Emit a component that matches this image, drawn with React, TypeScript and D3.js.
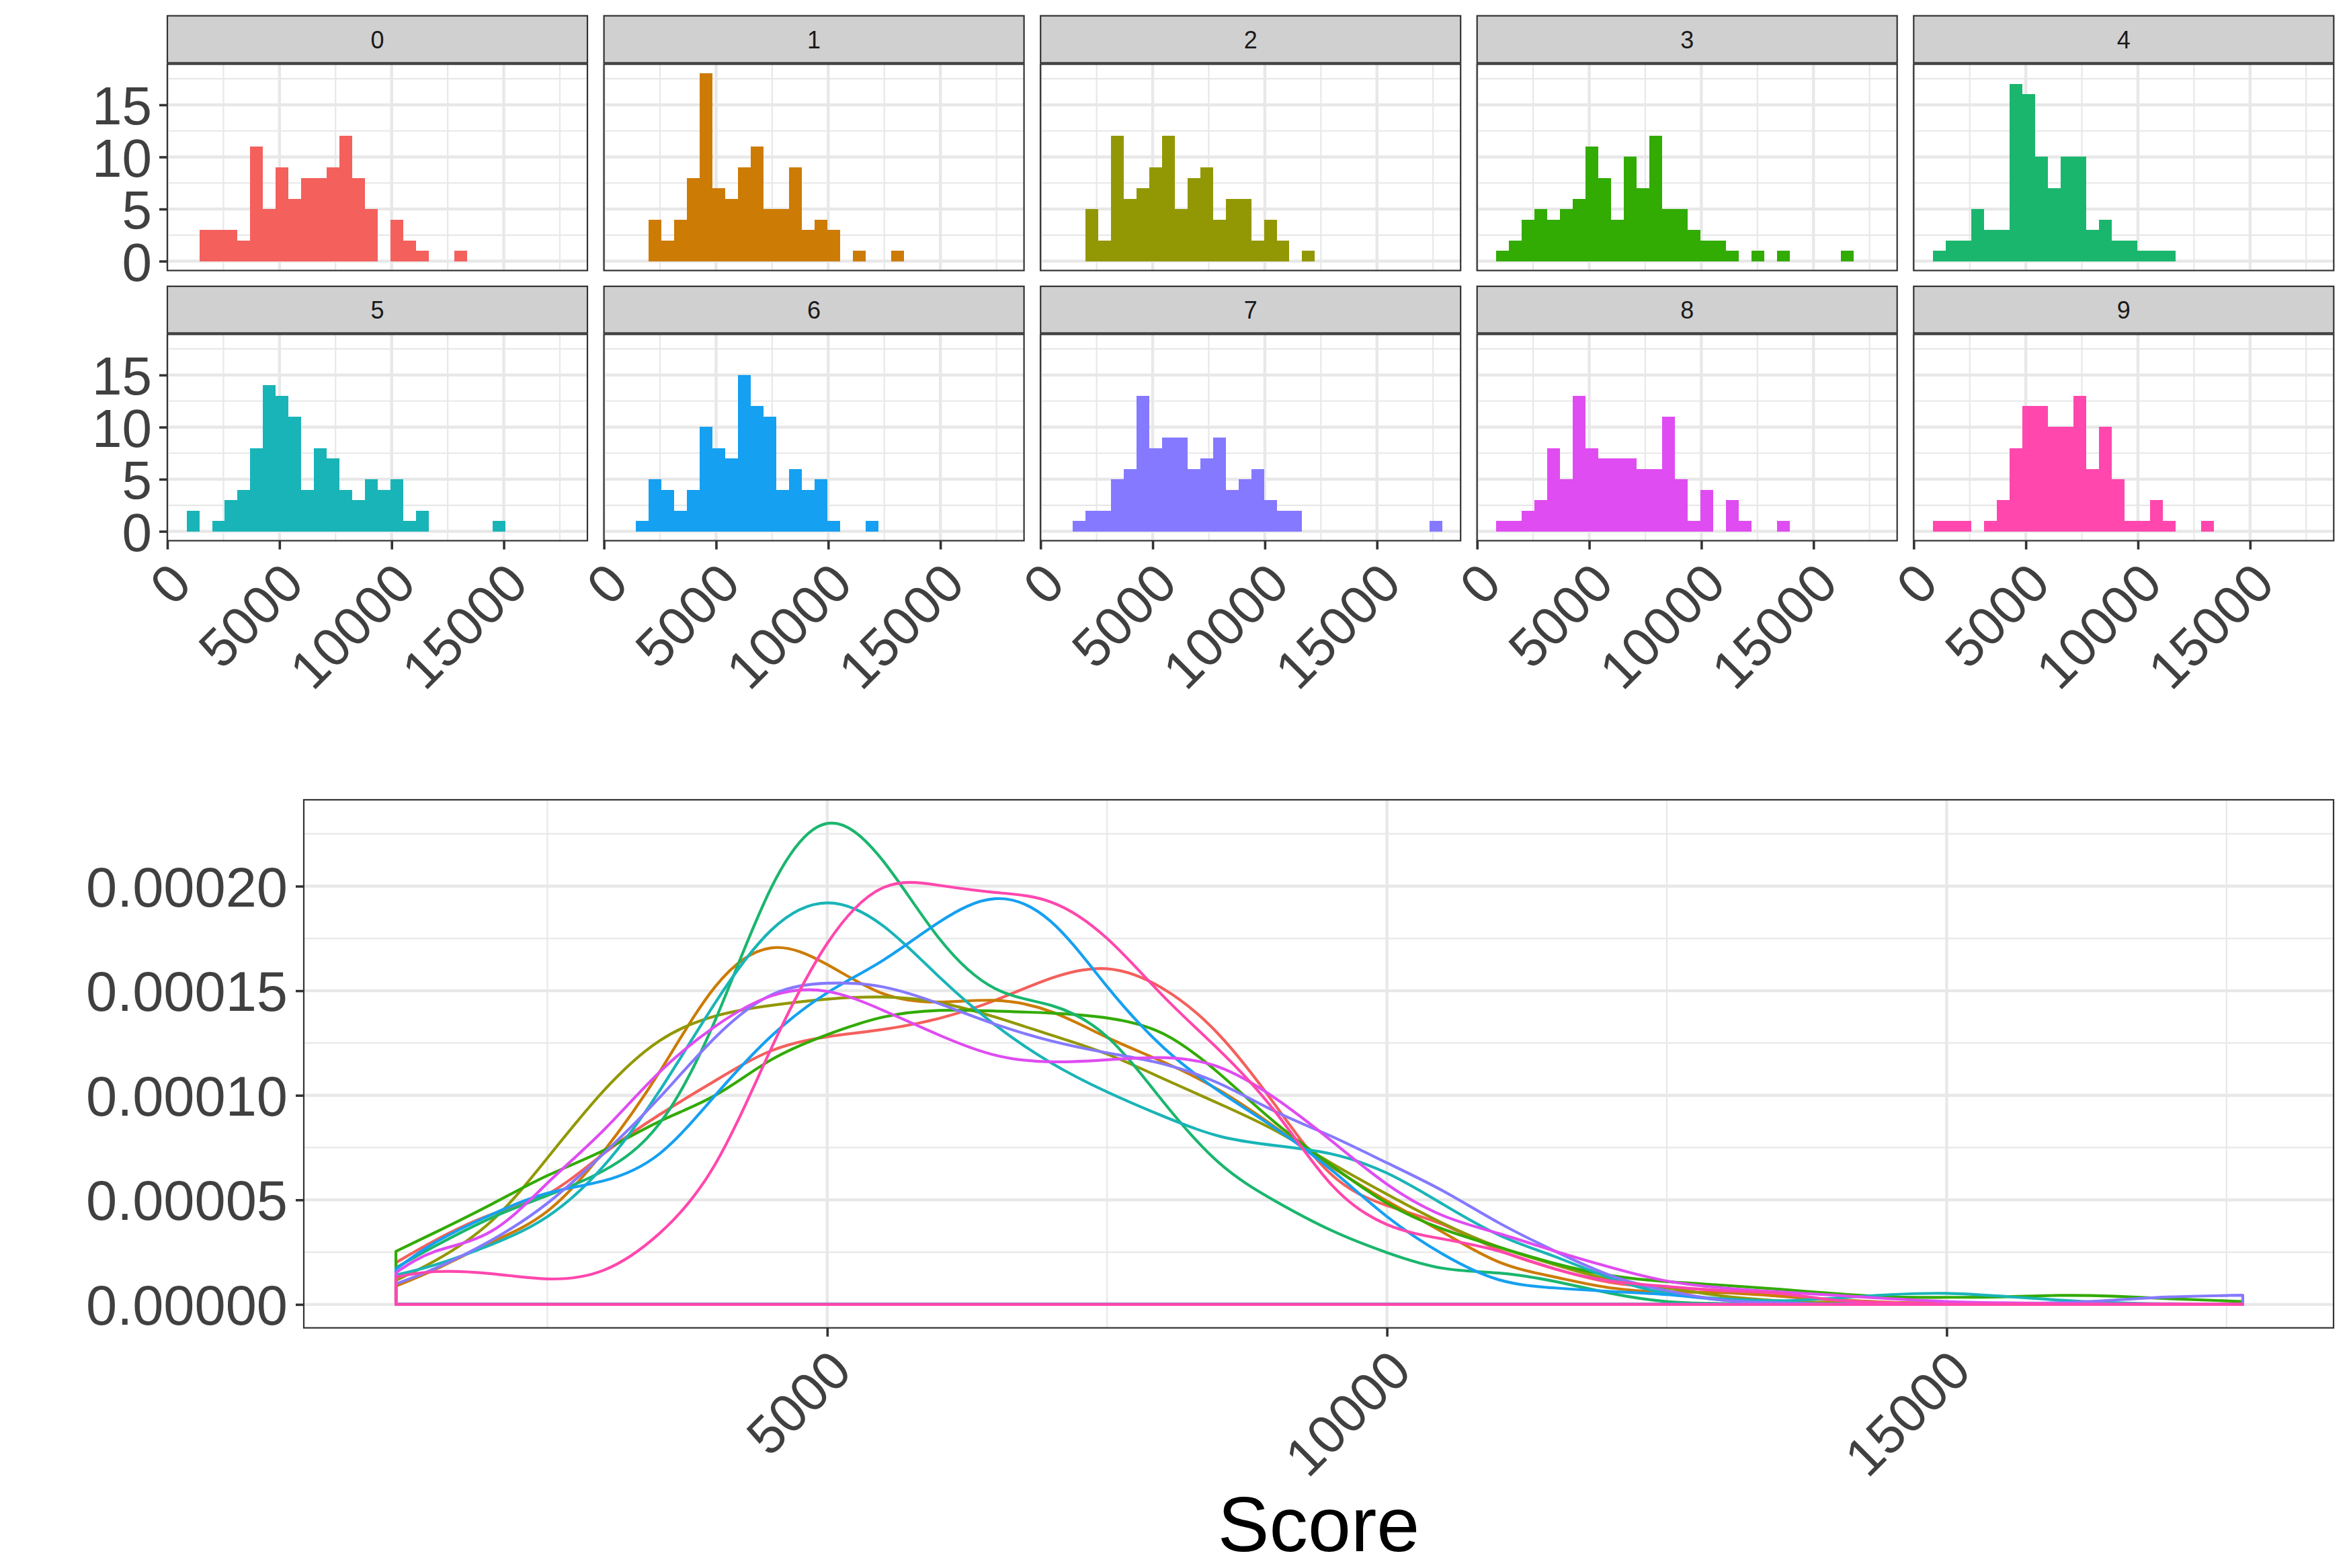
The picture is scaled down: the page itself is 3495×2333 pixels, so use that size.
import { useEffect, useRef } from "react";
import * as d3 from "d3";

const WIDTH = 3495;
const HEIGHT = 2333;

const groups = ["0", "1", "2", "3", "4", "5", "6", "7", "8", "9"];
const colors = ["#F4605C", "#CC7B05", "#929804", "#32AB03", "#1AB66E", "#19B4B7", "#15A0F1", "#8579FF", "#DF4CF1", "#FF47AE"];

// histogram counts per bin, 30 bins for every group
const binStart = 855;
const binWidth = 569;
const counts0 = [0, 3, 3, 3, 2, 11, 5, 9, 6, 8, 8, 9, 12, 8, 5, 0, 4, 2, 1, 0, 0, 1, 0, 0, 0, 0, 0, 0, 0, 0];
const counts1 = [0, 0, 4, 2, 4, 8, 18, 7, 6, 9, 11, 5, 5, 9, 3, 4, 3, 0, 1, 0, 0, 1, 0, 0, 0, 0, 0, 0, 0, 0];
const counts2 = [0, 0, 5, 2, 12, 6, 7, 9, 12, 5, 8, 9, 4, 6, 6, 2, 4, 2, 0, 1, 0, 0, 0, 0, 0, 0, 0, 0, 0, 0];
const counts3 = [1, 2, 4, 5, 4, 5, 6, 11, 8, 4, 10, 7, 12, 5, 5, 3, 2, 2, 1, 0, 1, 0, 1, 0, 0, 0, 0, 1, 0, 0];
const counts4 = [1, 2, 2, 5, 3, 3, 17, 16, 10, 7, 10, 10, 3, 4, 2, 2, 1, 1, 1, 0, 0, 0, 0, 0, 0, 0, 0, 0, 0, 0];
const counts5 = [2, 0, 1, 3, 4, 8, 14, 13, 11, 4, 8, 7, 4, 3, 5, 4, 5, 1, 2, 0, 0, 0, 0, 0, 1, 0, 0, 0, 0, 0];
const counts6 = [0, 1, 5, 4, 2, 4, 10, 8, 7, 15, 12, 11, 4, 6, 4, 5, 1, 0, 0, 1, 0, 0, 0, 0, 0, 0, 0, 0, 0, 0];
const counts7 = [0, 1, 2, 2, 5, 6, 13, 8, 9, 9, 6, 7, 9, 4, 5, 6, 3, 2, 2, 0, 0, 0, 0, 0, 0, 0, 0, 0, 0, 1];
const counts8 = [1, 1, 2, 3, 8, 5, 13, 8, 7, 7, 7, 6, 6, 11, 5, 1, 4, 0, 3, 1, 0, 0, 1, 0, 0, 0, 0, 0, 0, 0];
const counts9 = [1, 1, 1, 0, 1, 3, 8, 12, 12, 10, 10, 13, 6, 10, 5, 1, 1, 3, 1, 0, 0, 1, 0, 0, 0, 0, 0, 0, 0, 0];
const allCounts = [counts0, counts1, counts2, counts3, counts4, counts5, counts6, counts7, counts8, counts9];

const histXTicks = [0, 5000, 10000, 15000];
const histXMinor = [2500, 7500, 12500, 17500];
const histYTicks = [0, 5, 10, 15];
const histYMinor = [2.5, 7.5, 12.5, 17.5];

const scores = [1147, 1500, 2000, 2500, 3000, 3500, 4000, 4500, 5000, 5500, 6000, 6500, 7000, 7500, 8000, 8500, 9000, 9500, 10000, 10500, 11000, 11500, 12000, 12500, 13000, 13500, 14000, 14500, 15000, 15500, 16000, 16500, 17000, 17645];
const density0 = [2.0, 3.07, 4.3, 5.27, 7.2, 9.07, 10.7, 12.13, 12.8, 13.15, 13.68, 14.54, 15.6, 16.05, 15.1, 12.9, 9.55, 6.23, 4.73, 3.82, 2.6, 1.7, 1.05, 0.8, 0.66, 0.4, 0.2, 0.1, 0.05, 0.02, 0.02, 0.01, 0.01, 0.01];
const density1 = [0.88, 1.68, 2.97, 4.46, 7.3, 11.1, 15.2, 17.05, 16.25, 14.86, 14.46, 14.54, 14.0, 12.77, 11.6, 10.25, 8.48, 6.6, 4.95, 3.45, 2.03, 1.31, 0.79, 0.6, 0.56, 0.4, 0.23, 0.1, 0.05, 0.01, 0.01, 0.01, 0.01, 0.01];
const density2 = [1.15, 2.1, 3.98, 7.0, 10.2, 12.6, 13.79, 14.3, 14.6, 14.7, 14.43, 13.74, 12.88, 11.97, 10.8, 9.6, 8.32, 6.77, 5.27, 3.88, 2.74, 1.9, 1.18, 0.79, 0.4, 0.18, 0.08, 0.03, 0.01, 0.01, 0.01, 0.01, 0.01, 0.01];
const density3 = [2.54, 3.45, 4.79, 6.16, 7.36, 8.75, 10.0, 11.7, 12.9, 13.74, 14.06, 14.03, 13.93, 13.7, 12.95, 11.05, 8.7, 6.66, 4.84, 3.6, 2.74, 1.96, 1.38, 1.09, 0.92, 0.73, 0.52, 0.36, 0.34, 0.36, 0.43, 0.39, 0.27, 0.14];
const density4 = [1.75, 2.8, 4.14, 5.21, 6.39, 8.64, 13.6, 19.93, 23.0, 21.2, 17.5, 15.1, 14.3, 12.8, 9.7, 6.77, 4.95, 3.55, 2.48, 1.73, 1.5, 1.1, 0.53, 0.14, 0.04, 0.01, 0.01, 0.01, 0.01, 0.01, 0.01, 0.01, 0.01, 0.01];
const density5 = [1.41, 1.9, 2.86, 4.2, 6.6, 10.2, 14.43, 17.9, 19.2, 18.1, 15.66, 13.36, 11.55, 10.16, 9.0, 8.05, 7.6, 7.2, 6.28, 4.79, 3.32, 2.29, 1.25, 0.53, 0.27, 0.18, 0.3, 0.47, 0.53, 0.39, 0.21, 0.08, 0.03, 0.01];
const density6 = [1.68, 2.97, 4.3, 5.32, 5.91, 7.2, 10.0, 12.83, 14.9, 16.46, 18.28, 19.4, 18.3, 15.2, 12.3, 10.2, 8.43, 6.45, 4.2, 2.4, 1.18, 0.79, 0.62, 0.47, 0.21, 0.05, 0.01, 0.01, 0.01, 0.01, 0.01, 0.01, 0.01, 0.01];
const density7 = [0.98, 1.73, 3.07, 4.84, 7.2, 9.88, 12.77, 14.8, 15.36, 15.18, 14.38, 13.4, 12.6, 12.03, 11.5, 10.57, 9.23, 8.05, 6.77, 5.43, 3.9, 2.55, 1.38, 0.66, 0.21, 0.08, 0.02, 0.02, 0.02, 0.05, 0.08, 0.21, 0.36, 0.44];
const density8 = [1.52, 2.54, 3.5, 5.8, 8.32, 11.1, 13.3, 14.75, 14.97, 14.06, 12.88, 11.92, 11.6, 11.7, 11.8, 11.35, 9.87, 7.84, 5.75, 4.25, 3.39, 2.55, 1.77, 1.12, 0.79, 0.6, 0.44, 0.27, 0.14, 0.08, 0.04, 0.02, 0.02, 0.02];
const density9 = [1.31, 1.57, 1.47, 1.22, 1.63, 3.39, 6.71, 12.24, 17.26, 19.93, 20.04, 19.7, 19.24, 17.5, 14.75, 12.17, 9.23, 5.75, 3.82, 3.13, 2.55, 1.7, 1.12, 0.86, 0.66, 0.53, 0.21, 0.08, 0.02, 0.02, 0.02, 0.02, 0.02, 0.02];
const allDensity = [density0, density1, density2, density3, density4, density5, density6, density7, density8, density9];

const densityXTicks = [5000, 10000, 15000];
const densityXMinor = [2500, 7500, 12500, 17500];
const densityYTicks = [0, 5, 10, 15, 20];
const densityYLabels = ["0.00000", "0.00005", "0.00010", "0.00015", "0.00020"];
const densityYMinor = [2.5, 7.5, 12.5, 17.5, 22.5];

const panelLefts = [249, 898.6, 1548.2, 2197.7, 2847.3];
const panelW = 625;
const rowTops = [23.5, 426];
const panelTops = [95.5, 497.5];
const panelH = 307;

const GRID = "#E8E8E8";
const BORDER = "#333333";
const LABEL = "#404040";
const FONT = "'Liberation Sans', Arial, sans-serif";

function drawGrid(g, xMajor, xMinor, yMajor, yMinor, x, y, w, h) {
    xMinor.forEach(v => g.append("line").attr("x1", x(v)).attr("x2", x(v)).attr("y1", 0).attr("y2", h).attr("stroke", GRID).attr("stroke-width", 2.2));
    yMinor.forEach(v => g.append("line").attr("x1", 0).attr("x2", w).attr("y1", y(v)).attr("y2", y(v)).attr("stroke", GRID).attr("stroke-width", 2.2));
    xMajor.forEach(v => g.append("line").attr("x1", x(v)).attr("x2", x(v)).attr("y1", 0).attr("y2", h).attr("stroke", GRID).attr("stroke-width", 4.4));
    yMajor.forEach(v => g.append("line").attr("x1", 0).attr("x2", w).attr("y1", y(v)).attr("y2", y(v)).attr("stroke", GRID).attr("stroke-width", 4.4));
}

function styleAxis(axisG, size) {
    axisG.select(".domain").remove();
    axisG.selectAll(".tick line").attr("stroke", BORDER).attr("stroke-width", 3.6);
    axisG.selectAll("text").attr("font-family", FONT).attr("font-size", size).attr("fill", LABEL);
}

function rotateLabels(axisG) {
    axisG.selectAll("text")
        .attr("x", null)
        .attr("y", null)
        .attr("dy", null)
        .attr("text-anchor", "end")
        .attr("transform", "translate(39.3, 68) rotate(-45)");
}

export default function App() {
    const ref = useRef(null);

    useEffect(() => {
        const svg = d3.select(ref.current);
        svg.selectAll("*").remove();

        // top: one histogram per group
        groups.forEach((name, i) => {
            const col = i % 5;
            const row = Math.floor(i / 5);
            const left = panelLefts[col];
            const top = panelTops[row];

            const x = d3.scaleLinear().domain([0, 18730]).range([0, panelW]);
            const y = d3.scaleLinear().domain([-0.9, 18.9]).range([panelH, 0]);

            svg.append("rect")
                .attr("x", left).attr("y", rowTops[row])
                .attr("width", panelW).attr("height", top - rowTops[row] - 2)
                .attr("fill", "#D0D0D0").attr("stroke", BORDER).attr("stroke-width", 2.2);
            svg.append("text")
                .attr("x", left + panelW / 2).attr("y", rowTops[row] + 48)
                .attr("text-anchor", "middle")
                .attr("font-family", FONT).attr("font-size", 36).attr("fill", "#1A1A1A")
                .text(name);

            const g = svg.append("g").attr("transform", `translate(${left}, ${top})`);
            drawGrid(g, histXTicks, histXMinor, histYTicks, histYMinor, x, y, panelW, panelH);

            g.append("g")
                .attr("shape-rendering", "crispEdges")
                .selectAll("rect")
                .data(allCounts[i].map((c, k) => ({ c, k })).filter(d => d.c > 0))
                .join("rect")
                .attr("x", d => x(binStart + d.k * binWidth))
                .attr("width", d => x(binStart + (d.k + 1) * binWidth) - x(binStart + d.k * binWidth))
                .attr("y", d => y(d.c))
                .attr("height", d => y(0) - y(d.c))
                .attr("fill", colors[i]);

            g.append("rect")
                .attr("width", panelW).attr("height", panelH)
                .attr("fill", "none").attr("stroke", BORDER).attr("stroke-width", 2.2);

            if (col === 0) {
                const yAxis = g.append("g").call(d3.axisLeft(y).tickValues(histYTicks).tickFormat(d3.format("d")).tickSize(12).tickPadding(11));
                styleAxis(yAxis, 80);
                yAxis.selectAll("text").attr("dy", "0.358em");
            }
            if (row === 1) {
                const xAxis = g.append("g").attr("transform", `translate(0, ${panelH})`)
                    .call(d3.axisBottom(x).tickValues(histXTicks).tickFormat(d3.format("d")).tickSize(13));
                styleAxis(xAxis, 80);
                rotateLabels(xAxis);
            }
        });

        // bottom: all density curves on one panel
        const left = 452;
        const right = 3472;
        const top = 1190;
        const bottom = 1975.7;
        const w = right - left;
        const h = bottom - top;

        const x = d3.scaleLinear().domain([324, 18456]).range([0, w]);
        const y = d3.scaleLinear().domain([-1.12, 24.13]).range([h, 0]);

        const g = svg.append("g").attr("transform", `translate(${left}, ${top})`);
        drawGrid(g, densityXTicks, densityXMinor, densityYTicks, densityYMinor, x, y, w, h);

        const area = d3.area()
            .x(d => x(d.s))
            .y0(y(0))
            .y1(d => y(d.v))
            .curve(d3.curveNatural);

        groups.forEach((name, i) => {
            g.append("path")
                .datum(scores.map((s, k) => ({ s, v: allDensity[i][k] })))
                .attr("d", area)
                .attr("fill", "none")
                .attr("stroke", colors[i])
                .attr("stroke-width", 4.2)
                .attr("stroke-linejoin", "round");
        });

        g.append("rect")
            .attr("width", w).attr("height", h)
            .attr("fill", "none").attr("stroke", BORDER).attr("stroke-width", 2.2);

        const yAxis = g.append("g").call(d3.axisLeft(y).tickValues(densityYTicks).tickFormat((d, k) => densityYLabels[k]).tickSize(12).tickPadding(12));
        styleAxis(yAxis, 83);
        yAxis.selectAll("text").attr("dy", "0.358em");

        const xAxis = g.append("g").attr("transform", `translate(0, ${h})`)
            .call(d3.axisBottom(x).tickValues(densityXTicks).tickFormat(d3.format("d")).tickSize(13));
        styleAxis(xAxis, 80);
        rotateLabels(xAxis);

        svg.append("text")
            .attr("x", (left + right) / 2).attr("y", 2308)
            .attr("text-anchor", "middle")
            .attr("font-family", FONT).attr("font-size", 115).attr("fill", "#000000")
            .text("Score");
    }, []);

    return (
        <svg
            ref={ref}
            width={WIDTH}
            height={HEIGHT}
            viewBox={`0 0 ${WIDTH} ${HEIGHT}`}
            style={{ position: "absolute", left: 0, top: 0, background: "#FFFFFF" }}
        />
    );
}
